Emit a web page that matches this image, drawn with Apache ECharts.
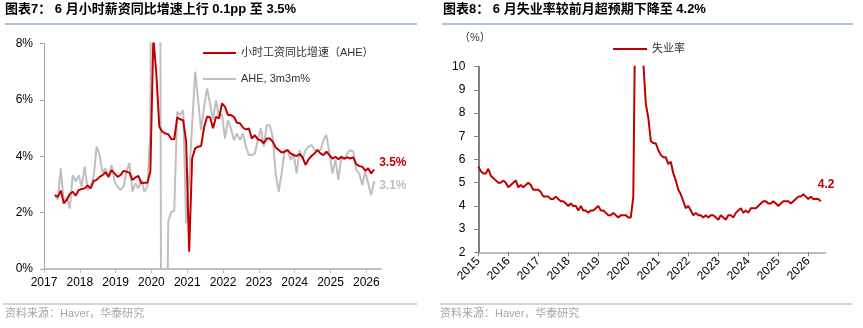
<!DOCTYPE html>
<html>
<head>
<meta charset="utf-8">
<script src="https://cdn.jsdelivr.net/npm/echarts@6/dist/echarts.min.js"></script>
<style>
  html, body { margin: 0; padding: 0; background: #fff; }
  #main { width: 863px; height: 328px; }
</style>
</head>
<body>
<div id="main"></div>
<script>
// 图表7：小时工资同比（月度，首个点的横轴位置 + 逐月）
var aheStart = 2017.303;
var ahe = [
  2.62, 2.56, 2.78, 2.33, 2.45, 2.66, 2.74, 2.60, 2.80, 2.84,
  2.86, 2.96, 2.86, 3.12, 3.16, 3.27, 3.33, 3.43, 3.27, 3.51,
  3.39, 3.27, 3.33, 3.48, 3.45, 3.42, 3.16, 3.25, 3.30, 3.04,
  3.06, 3.06, 3.45, 8.20, 6.94, 5.05, 4.87, 4.81, 4.78, 4.61,
  4.60, 5.38, 5.31, 5.28, 4.52, 0.61, 3.92, 4.28, 4.34, 4.36,
  5.02, 5.40, 5.38, 4.99, 5.40, 5.34, 5.87, 5.76, 5.46, 5.46,
  5.40, 5.19, 5.17, 5.02, 4.95, 4.99, 4.63, 4.75, 4.60, 4.57,
  4.46, 4.63, 4.63, 4.52, 4.31, 4.22, 4.13, 4.16, 4.22, 4.10,
  4.04, 4.01, 4.08, 3.96, 3.69, 3.89, 4.01, 4.10, 4.22, 4.10,
  4.04, 4.16, 4.04, 3.92, 3.98, 3.89, 3.98, 3.92, 3.96, 3.92,
  3.96, 3.72, 3.65, 3.63, 3.49, 3.57, 3.39, 3.53
];
var ahe3m = [
  2.62, 2.47, 3.57, 2.33, 2.56, 2.15, 3.33, 3.10, 3.33, 2.92,
  3.63, 2.80, 2.92, 3.27, 4.34, 4.04, 3.42, 3.57, 3.27, 3.69,
  3.10, 2.92, 2.80, 2.92, 3.45, 3.77, 2.74, 3.04, 2.86, 3.16,
  2.74, 2.92, 4.93, 30.0, 28.0, 25.0, -20.0, -8.0, 1.70, 2.03,
  2.05, 5.58, 5.46, 5.64, 1.62, 3.20, 5.10, 7.00, 5.99, 4.93,
  5.76, 6.41, 5.87, 5.30, 6.00, 5.40, 5.50, 4.63, 5.28, 4.99,
  4.57, 4.81, 4.57, 4.81, 4.34, 4.04, 4.04, 4.10, 4.57, 4.99,
  4.34, 5.10, 5.10, 4.69, 3.39, 2.74, 3.39, 4.22, 4.22, 3.87,
  4.10, 3.39, 4.22, 3.87, 4.22, 4.34, 4.40, 4.22, 4.22, 4.22,
  4.57, 4.75, 4.10, 3.39, 3.87, 3.16, 3.98, 3.87, 4.10, 4.22,
  4.16, 3.51, 3.39, 2.98, 3.45, 3.04, 2.62, 3.12
];
var yearsLeft = [2017, 2018, 2019, 2020, 2021, 2022, 2023, 2024, 2025, 2026];

// 图表8：失业率，2015年1月起逐月
var unrateStart = 2015.0;
var unrate = [
  5.7, 5.5, 5.4, 5.4, 5.6, 5.3, 5.2, 5.1, 5.0, 5.0, 5.1, 5.0,
  4.8, 4.9, 5.0, 5.1, 4.8, 4.9, 4.8, 4.9, 5.0, 4.9, 4.7, 4.7,
  4.7, 4.6, 4.4, 4.4, 4.4, 4.3, 4.3, 4.4, 4.3, 4.2, 4.2, 4.1,
  4.0, 4.1, 4.0, 4.0, 3.8, 4.0, 3.8, 3.8, 3.7, 3.8, 3.8, 3.9,
  4.0, 3.8, 3.8, 3.7, 3.6, 3.6, 3.7, 3.6, 3.5, 3.6, 3.6, 3.6,
  3.5, 3.5, 4.4, 14.8, 13.2, 11.0, 10.2, 8.4, 7.8, 6.8, 6.7, 6.7,
  6.4, 6.2, 6.1, 6.1, 5.8, 5.9, 5.4, 5.1, 4.7, 4.5, 4.2, 3.9,
  4.0, 3.8, 3.6, 3.7, 3.6, 3.6, 3.5, 3.6, 3.5, 3.6, 3.6, 3.5,
  3.4, 3.6, 3.5, 3.4, 3.6, 3.6, 3.5, 3.7, 3.8, 3.9, 3.7, 3.8,
  3.7, 3.9, 3.9, 3.9, 4.0, 4.1, 4.2, 4.2, 4.1, 4.1, 4.2, 4.1,
  4.0, 4.1, 4.2, 4.2, 4.2, 4.1, 4.2, 4.3, 4.4, 4.4, 4.5, 4.4,
  4.3, 4.4, 4.3, 4.3, 4.3, 4.2
];
var yearsRight = [2015, 2016, 2017, 2018, 2019, 2020, 2021, 2022, 2023, 2024, 2025, 2026];

function monthly(start, arr) {
  return arr.map(function (v, i) { return [start + i / 12, v]; });
}

var FONT = "'Liberation Sans', 'Noto Sans CJK SC', sans-serif";
var RED = '#C00000';
var GRAY = '#BFBFBF';
var yearFmt = function (v) { return String(Math.round(v)); };

var myChart = echarts.init(document.getElementById('main'));

var option = {
  animation: false,
  backgroundColor: '#fff',
  textStyle: { fontFamily: FONT },
  title: [
    { text: '图表7： 6 月小时薪资同比增速上行 0.1pp 至 3.5%', left: 0, top: -2,
      textStyle: { fontSize: 13, fontWeight: 'bold', color: '#000', fontFamily: FONT } },
    { text: '图表8： 6 月失业率较前月超预期下降至 4.2%', left: 438, top: -2,
      textStyle: { fontSize: 13, fontWeight: 'bold', color: '#000', fontFamily: FONT } }
  ],
  legend: [
    { data: ['小时工资同比增速（AHE）', 'AHE, 3m3m%'], orient: 'vertical',
      left: 198, top: 41, icon: 'rect', itemWidth: 33, itemHeight: 2, itemGap: 12,
      textStyle: { fontSize: 11, color: '#333', lineHeight: 14 } },
    { data: ['失业率'], left: 608, top: 37, icon: 'rect', itemWidth: 34, itemHeight: 2,
      textStyle: { fontSize: 11, color: '#333', lineHeight: 14 } }
  ],
  grid: [
    { left: 44, right: 482, top: 43.5, bottom: 59, outerBoundsMode: 'none' },
    { left: 478.3, right: 37.3, top: 66.7, bottom: 75.7, outerBoundsMode: 'none' }
  ],
  xAxis: [
    { gridIndex: 0, type: 'value', min: 2017, max: 2026.41,
      axisLine: { lineStyle: { color: GRAY, width: 2 } },
      axisTick: { customValues: yearsLeft, length: 4, lineStyle: { color: GRAY, width: 1 } },
      axisLabel: { customValues: yearsLeft, formatter: yearFmt, color: '#000', fontSize: 12, margin: 8 },
      splitLine: { show: false } },
    { gridIndex: 1, type: 'value', min: 2015, max: 2026.58,
      axisLine: { lineStyle: { color: '#A6A6A6', width: 1.5 } },
      axisTick: { customValues: yearsRight, length: 4, lineStyle: { color: '#808080', width: 1 } },
      axisLabel: { customValues: yearsRight, formatter: yearFmt, rotate: 45, color: '#000', fontSize: 12, margin: 7 },
      splitLine: { show: false } }
  ],
  yAxis: [
    { gridIndex: 0, type: 'value', min: 0, max: 8, interval: 2,
      axisLine: { show: true, lineStyle: { color: '#A6A6A6', width: 1 } },
      axisTick: { show: true, length: 4, lineStyle: { color: '#A6A6A6' } },
      axisLabel: { formatter: '{value}%', color: '#000', fontSize: 12, margin: 11 },
      splitLine: { show: false } },
    { gridIndex: 1, type: 'value', min: 2, max: 10, interval: 1,
      axisLine: { show: true, lineStyle: { color: '#808080', width: 2 } },
      axisTick: { show: true, length: 4, lineStyle: { color: '#808080' } },
      axisLabel: { color: '#000', fontSize: 12, margin: 13 },
      splitLine: { show: false } }
  ],
  series: [
    { name: 'AHE, 3m3m%', type: 'line', xAxisIndex: 0, yAxisIndex: 0,
      data: monthly(aheStart, ahe3m), showSymbol: false, z: 2,
      lineStyle: { color: GRAY, width: 2 }, itemStyle: { color: GRAY },
      endLabel: { show: true, formatter: function (p) { return p.value[1].toFixed(1) + '%'; },
        offset: [-3, 5], color: GRAY, fontWeight: 'bold', fontSize: 12 } },
    { name: '小时工资同比增速（AHE）', type: 'line', xAxisIndex: 0, yAxisIndex: 0,
      data: monthly(aheStart, ahe), showSymbol: false, z: 3,
      lineStyle: { color: RED, width: 2 }, itemStyle: { color: RED },
      endLabel: { show: true, formatter: function (p) { return p.value[1].toFixed(1) + '%'; },
        offset: [-3, -7], color: RED, fontWeight: 'bold', fontSize: 12 } },
    { name: '失业率', type: 'line', xAxisIndex: 1, yAxisIndex: 1,
      data: monthly(unrateStart, unrate), showSymbol: false, z: 3,
      lineStyle: { color: RED, width: 2 }, itemStyle: { color: RED },
      endLabel: { show: true, formatter: function (p) { return p.value[1].toFixed(1); },
        offset: [-11, -17], color: RED, fontWeight: 'bold', fontSize: 12 } }
  ],
  graphic: [
    { type: 'line', shape: { x1: 5, y1: 24, x2: 417, y2: 24 }, style: { stroke: '#94AECB', lineWidth: 1.5 } },
    { type: 'line', shape: { x1: 442, y1: 24, x2: 853, y2: 24 }, style: { stroke: '#94AECB', lineWidth: 1.5 } },
    { type: 'line', shape: { x1: 3, y1: 304, x2: 417, y2: 304 }, style: { stroke: '#94AECB', lineWidth: 1 } },
    { type: 'line', shape: { x1: 440, y1: 304, x2: 852, y2: 304 }, style: { stroke: '#94AECB', lineWidth: 1 } },
    { type: 'text', left: 5, top: 308, style: { text: '资料来源：Haver，华泰研究', fill: '#A6A6A6', font: '11px ' + FONT } },
    { type: 'text', left: 440, top: 308, style: { text: '资料来源：Haver，华泰研究', fill: '#A6A6A6', font: '11px ' + FONT } },
    { type: 'text', left: 459, top: 32, style: { text: '（%）', fill: '#333', font: '11px ' + FONT } }
  ]
};

myChart.setOption(option);
</script>
</body>
</html>
